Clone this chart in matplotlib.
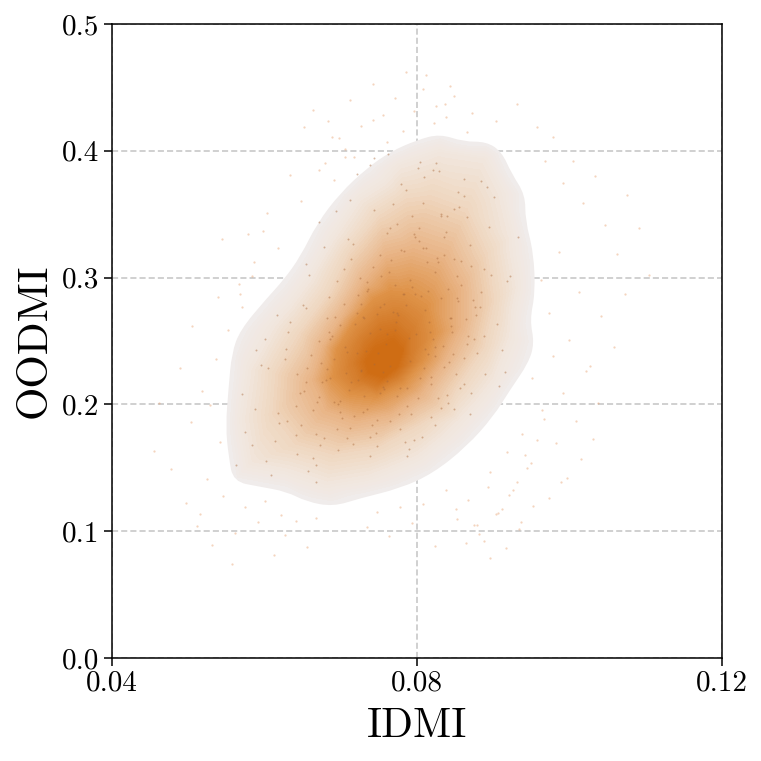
import matplotlib
matplotlib.use('Agg')
from matplotlib import pyplot as plt
from matplotlib.colors import LinearSegmentedColormap
from matplotlib.patches import PathPatch
from matplotlib.path import Path
from matplotlib.tri import Triangulation
import numpy as np

# density outlines, (IDMI, OODMI), outermost first
outline_0 = [(.0830,.4133),(.0861,.4072),(.0891,.4072),(.0911,.3993),(.0924,.3822),(.0942,.3652),
             (.0942,.3454),(.0953,.3192),(.0955,.2876),(.0948,.2666),(.0954,.2482),(.0946,.2324),
             (.0922,.2114),(.0900,.1903),(.0865,.1667),(.0821,.1456),(.0778,.1338),(.0725,.1259),
             (.0690,.1194),(.0655,.1233),(.0629,.1312),(.0594,.1351),(.0559,.1391),(.0553,.1588),
             (.0549,.1825),(.0553,.2140),(.0557,.2403),(.0568,.2587),(.0603,.2837),(.0625,.2981),
             (.0647,.3165),(.0669,.3428),(.0699,.3665),(.0734,.3862),(.0765,.3993),(.0800,.4085)]
outline_1 = [(.0830,.3980),(.0887,.3928),(.0909,.3665),(.0922,.3323),(.0931,.2929),(.0922,.2534),
             (.0900,.2193),(.0856,.1877),(.0800,.1588),(.0734,.1430),(.0682,.1378),(.0629,.1483),
             (.0581,.1535),(.0572,.1877),(.0581,.2271),(.0612,.2613),(.0660,.2981),(.0690,.3297),
             (.0725,.3612),(.0778,.3875)]
outline_2 = [(.0817,.3638),(.0865,.3533),(.0891,.3192),(.0900,.2823),(.0887,.2455),(.0852,.2140),
             (.0804,.1851),(.0747,.1667),(.0690,.1614),(.0642,.1693),(.0612,.1930),(.0616,.2245),
             (.0647,.2561),(.0686,.2876),(.0712,.3192),(.0751,.3481),(.0786,.3612)]
outline_3 = [(.0795,.3218),(.0835,.3139),(.0856,.2902),(.0856,.2613),(.0835,.2350),(.0804,.2087),
             (.0765,.1930),(.0721,.1877),(.0682,.1956),(.0664,.2193),(.0677,.2455),(.0703,.2692),
             (.0730,.2955),(.0760,.3165)]
outline_4 = [(.0786,.2876),(.0813,.2771),(.0821,.2561),(.0808,.2350),(.0782,.2166),(.0747,.2061),
             (.0712,.2087),(.0690,.2219),(.0695,.2429),(.0717,.2639),(.0743,.2823),(.0765,.2889)]
outline_5 = [(.0773,.2666),(.0791,.2561),(.0791,.2403),(.0773,.2219),(.0747,.2140),(.0725,.2193),
             (.0717,.2324),(.0730,.2508),(.0751,.2639)]
outline_6 = [(.0769,.2495),(.0780,.2416),(.0773,.2298),(.0756,.2219),(.0738,.2258),(.0734,.2337),
             (.0745,.2429)]
outlines = [outline_0, outline_1, outline_2, outline_3, outline_4, outline_5, outline_6]
levels = [0.0, 0.12, 0.25, 0.45, 0.65, 0.85, 1.0]
colors = ['#F0ECEB', '#F1E6DD', '#EFD6BE', '#E8B384', '#DE9247', '#D47C2B', '#CF6D14']

# faint single runs outside the filled region
outer_x = [.0455,.0462,.0478,.0489,.0497,.0503,.0512,.0518,.0524,.0531,.0537,.0542,.0505,.0515,.0528,.0539,
           .0546,.0552,.0561,.0568,.0575,.0583,.0592,.0601,.0612,.0622,.0571,.0586,.0598,.0544,.0557,.0566,
           .0579,.0603,.0618,.0633,.0648,.0627,.0641,.0656,.0668,.0679,.0691,.0705,.0718,.0652,.0664,.0683,
           .0698,.0712,.0727,.0742,.0755,.0771,.0786,.0735,.0748,.0763,.0778,.0793,.0808,.0823,.0838,.0852,
           .0867,.0881,.0896,.0912,.0926,.0941,.0825,.0843,.0872,.0904,.0931,.0957,.0968,.0979,.0991,.1004,
           .1018,.1033,.1047,.1062,.1076,.1091,.1104,.0962,.0973,.0986,.0999,.1012,.1027,.1041,.1058,.1073,
           .0951,.0964,.0978,.0992,.1009,.1022,.1038,.0938,.0949,.0966,.0982,.0997,.1015,.1031,.0918,.0931,
           .0944,.0958,.0973,.0989,.0893,.0906,.0921,.0937,.0952,.0875,.0888,.0903,.0917,.0934,.0851,.0864,
           .0879,.0896,.0838,.0849,.0866,.0808,.0822,.0837,.0781,.0796,.0812,.0742,.0761,.0705,.0688,.0671]
outer_y = [.1635,.2012,.1488,.2284,.1223,.1862,.1040,.2105,.1412,.0892,.2356,.1706,.2621,.1137,.1993,.2844,
           .1281,.2588,.0986,.2872,.1188,.3015,.1074,.1242,.0815,.1126,.2768,.3126,.3368,.3302,.0738,.2951,
           .3347,.3512,.3233,.3811,.3602,.0968,.1083,.0875,.1102,.3904,.3772,.4015,.3951,.4188,.4325,.4236,
           .4102,.4401,.4192,.4528,.4286,.4417,.4622,.1034,.1152,.0962,.1188,.1061,.1214,.0885,.1323,.1096,
           .1245,.0975,.1468,.1177,.1322,.1598,.4352,.4511,.4296,.4233,.4372,.4188,.3922,.4105,.3745,.3922,
           .3588,.3802,.3416,.3185,.3653,.3392,.3024,.2981,.2722,.3204,.2511,.2883,.2302,.2695,.2456,.2867,
           .2206,.1953,.2384,.2088,.1872,.2261,.2012,.1765,.1534,.1888,.1695,.1422,.1566,.1731,.1622,.1386,
           .1495,.1718,.1263,.1388,.1352,.1142,.1288,.1076,.1201,.1048,.0922,.1138,.0865,.1015,.1176,.0907,
           .1051,.0792,.4266,.4433,.4151,.4488,.4219,.4366,.4158,.4312,.4594,.4242,.4069,.3948,.4112,.3846]

# darker grains on top of the filled region
inner_x = [.0562,.0571,.0584,.0596,.0608,.0618,.0631,.0642,.0655,.0668,.0575,.0589,.0602,.0616,.0629,.0643,
           .0657,.0671,.0684,.0697,.0588,.0601,.0614,.0627,.0641,.0654,.0668,.0681,.0695,.0708,.0721,.0605,
           .0619,.0633,.0646,.0659,.0673,.0686,.0699,.0713,.0726,.0739,.0752,.0628,.0641,.0655,.0669,.0682,
           .0695,.0709,.0722,.0735,.0748,.0761,.0774,.0787,.0651,.0664,.0678,.0691,.0704,.0718,.0731,.0744,
           .0757,.0771,.0784,.0797,.0811,.0824,.0672,.0685,.0699,.0712,.0726,.0739,.0752,.0765,.0779,.0792,
           .0805,.0819,.0832,.0845,.0694,.0707,.0721,.0734,.0747,.0761,.0774,.0787,.0801,.0814,.0827,.0841,
           .0854,.0867,.0716,.0729,.0743,.0756,.0769,.0783,.0796,.0809,.0823,.0836,.0849,.0862,.0876,.0889,
           .0738,.0751,.0764,.0778,.0791,.0804,.0818,.0831,.0844,.0858,.0871,.0884,.0897,.0911,.0762,.0775,
           .0789,.0802,.0815,.0829,.0842,.0855,.0869,.0882,.0895,.0908,.0922,.0785,.0799,.0812,.0825,.0839,
           .0852,.0865,.0879,.0892,.0905,.0918,.0933,.0808,.0821,.0835,.0848,.0861,.0875,.0888,.0901,.0915]
inner_y = [.1524,.2083,.1682,.2312,.1447,.1935,.2571,.1605,.2174,.1388,.1782,.2426,.1553,.2708,.1869,.2241,
           .1476,.2056,.2844,.1642,.1966,.2518,.1715,.2355,.1984,.2762,.1524,.2193,.2971,.1736,.2407,.2287,
           .1851,.2653,.2088,.3018,.1678,.2516,.1943,.3147,.2264,.1592,.2772,.2439,.1762,.3106,.2015,.2683,
           .1807,.3302,.2196,.2896,.1668,.2553,.3421,.1985,.2786,.1574,.3238,.2361,.3066,.1912,.2684,.3534,
           .2123,.2945,.1703,.3318,.2436,.1841,.3441,.2572,.2027,.3612,.2793,.1743,.3176,.2304,.3738,.1928,
           .2854,.2163,.3482,.2617,.3526,.2249,.3815,.2968,.1876,.3352,.2721,.1592,.3861,.2396,.3124,.2012,
           .3673,.2538,.3267,.2689,.3947,.2134,.3578,.2873,.1721,.3794,.2456,.3182,.1964,.3646,.2771,.2236,
           .3886,.2592,.3391,.1803,.2982,.3912,.2215,.3503,.2684,.3128,.2089,.3762,.3021,.2427,.3974,.2708,
           .1652,.3286,.2891,.3841,.2331,.3554,.1924,.2765,.3398,.2142,.3011,.3687,.2552,.3236,.3905,.2078,
           .2837,.3476,.2409,.3718,.2633,.2976,.3321,.3592,.3846,.2298,.3143,.3774,.2512,.3067,.3634,.2258]

# second batch of grains, thicker around the middle of the cloud
mid_x = [.0648,.0656,.0663,.0671,.0678,.0686,.0693,.0701,.0708,.0716,.0723,.0731,.0738,.0746,.0753,.0761,
         .0768,.0776,.0783,.0791,.0798,.0806,.0813,.0821,.0828,.0836,.0843,.0851,.0858,.0866,.0652,.0667,
         .0674,.0689,.0697,.0704,.0712,.0719,.0727,.0734,.0742,.0749,.0757,.0764,.0772,.0779,.0787,.0794,
         .0802,.0809,.0817,.0824,.0832,.0839,.0847,.0854,.0862,.0869,.0877,.0884,.0661,.0676,.0691,.0706,
         .0714,.0721,.0729,.0736,.0744,.0751,.0759,.0766,.0774,.0781,.0789,.0796,.0804,.0811,.0819,.0826,
         .0834,.0841,.0849,.0856,.0864,.0871,.0682,.0699,.0711,.0725,.0733,.0741,.0748,.0756,.0763,.0771,
         .0778,.0786,.0793,.0801,.0808,.0816,.0823,.0831,.0838,.0846,.0853,.0861,.0874,.0888]
mid_y = [.1836,.2291,.1957,.2503,.1734,.2212,.2688,.1892,.2417,.1686,.2859,.2068,.2564,.1778,.3012,.2186,
         .2731,.1923,.3208,.2345,.2867,.1742,.3124,.2514,.2053,.3317,.2682,.2236,.2941,.2479,.2108,.1764,
         .2326,.2541,.2003,.2795,.1812,.2632,.2271,.1961,.3086,.2403,.2793,.1868,.2648,.3214,.2132,.2926,
         .3392,.2289,.2573,.3043,.1975,.3486,.2394,.2816,.2161,.3261,.2708,.2884,.2387,.2174,.2019,.2453,
         .2176,.2724,.1943,.2912,.2318,.2087,.2476,.3137,.2063,.2869,.2522,.3341,.2211,.2746,.1898,.3157,
         .2463,.2912,.3538,.2127,.2674,.3091,.2276,.2628,.2112,.2993,.2419,.1839,.2716,.2256,.3042,.2583,
         .2128,.2787,.3482,.2047,.3236,.2651,.2381,.2836,.3361,.2573,.3012,.2369,.2822,.2543]

plt.rcParams['font.family'] = ['cmr10', 'DejaVu Sans']
plt.rcParams['mathtext.fontset'] = 'cm'
plt.rcParams['axes.formatter.use_mathtext'] = True

fig = plt.figure(figsize=(7.61, 7.61), dpi=100)
ax = fig.add_axes([112 / 761, 1 - 658 / 761, 610 / 761, 634 / 761])

ax.grid(True, color='#c4c4c4', linestyle='--', linewidth=1.1, dashes=(4, 2))
ax.set_axisbelow(True)

# base shape with rounded corners: outline points act as curve controls
ctrl = np.array(outline_0)
mids = (ctrl + np.roll(ctrl, -1, axis=0)) / 2
verts = [mids[-1]]
codes = [Path.MOVETO]
for c, m in zip(ctrl, mids):
    verts += [c, m]
    codes += [Path.CURVE3, Path.CURVE3]
ax.add_patch(PathPatch(Path(verts, codes), facecolor=colors[0], linewidth=0, zorder=2))

# gradient spread between the outlines
pts_x = np.array([p[0] for o in outlines for p in o])
pts_y = np.array([p[1] for o in outlines for p in o])
pts_z = np.array([lv for o, lv in zip(outlines, levels) for p in o])
# triangles must be worked out at screen proportions, x spans far less than y
tri = Triangulation(pts_x * 6.0, pts_y)
tri = Triangulation(pts_x, pts_y, tri.triangles)
cmap = LinearSegmentedColormap.from_list('idmi', list(zip(levels, colors)))
ax.tricontourf(tri, pts_z, levels=np.linspace(0.03, 1.01, 60), cmap=cmap,
               vmin=0, vmax=1, antialiased=False, zorder=3)

ax.scatter(outer_x, outer_y, s=2.6, color='#E8A070', alpha=0.45, linewidths=0, zorder=1.5)
ax.scatter(inner_x, inner_y, s=2.0, color='#A8683A', alpha=0.45, linewidths=0, zorder=4)
ax.scatter(mid_x, mid_y, s=2.0, color='#A8683A', alpha=0.45, linewidths=0, zorder=4)

ax.set_xlim(0.04, 0.12)
ax.set_ylim(0.0, 0.5)
ax.set_xticks([0.04, 0.08, 0.12])
ax.set_xticklabels(['0.04', '0.08', '0.12'])
ax.set_yticks([0.0, 0.1, 0.2, 0.3, 0.4, 0.5])
ax.set_yticklabels(['0.0', '0.1', '0.2', '0.3', '0.4', '0.5'])
ax.tick_params(labelsize=21, length=6, width=1.1, pad=3)
for spine in ax.spines.values():
    spine.set_linewidth(1.1)
    spine.set_zorder(6)
ax.set_xlabel('IDMI', fontsize=30, labelpad=8)
ax.set_ylabel('OODMI', fontsize=31, labelpad=6)

fig.savefig('out.png', dpi=100)
